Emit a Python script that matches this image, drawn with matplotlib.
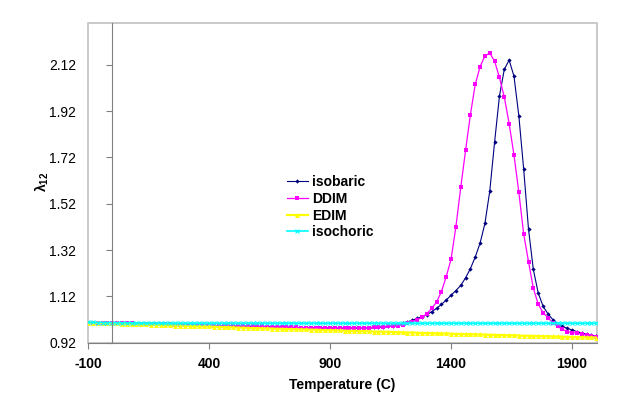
import matplotlib
matplotlib.use("Agg")
import matplotlib.pyplot as plt
from matplotlib.patches import Rectangle

plt.rcParams['font.family'] = ['Liberation Sans', 'DejaVu Sans']
plt.rcParams['axes.unicode_minus'] = False
plt.rcParams['mathtext.fontset'] = 'custom'
plt.rcParams['mathtext.rm'] = 'Liberation Sans:bold'
plt.rcParams['mathtext.it'] = 'Liberation Sans:bold'

# temperature grid (C), -100 .. 2000 every 20
temps = list(range(-100, 2001, 20))

isobaric = [
    1.007, 1.007, 1.006, 1.006, 1.005, 1.005, 1.004, 1.004, 1.003, 1.003,
    1.002, 1.002, 1.001, 1.001, 1.000, 1.000, 0.999, 0.999, 0.998, 0.998,
    0.997, 0.997, 0.996, 0.996, 0.995, 0.995, 0.994, 0.994, 0.993, 0.993,
    0.993, 0.992, 0.992, 0.991, 0.991, 0.990, 0.990, 0.989, 0.988, 0.988,
    0.987, 0.987, 0.986, 0.986, 0.985, 0.985, 0.985, 0.984, 0.984, 0.984,
    0.983, 0.983, 0.983, 0.983, 0.983, 0.984, 0.984, 0.985, 0.985, 0.986,
    0.988, 0.989, 0.991, 0.994, 0.998, 1.004, 1.010, 1.017, 1.025, 1.032,
    1.040, 1.054, 1.068, 1.085, 1.104, 1.125, 1.145, 1.167, 1.200, 1.240,
    1.290, 1.350, 1.435, 1.575, 1.787, 1.985, 2.100, 2.140, 2.070, 1.900,
    1.670, 1.410, 1.236, 1.135, 1.078, 1.045, 1.020, 1.002, 0.990, 0.982,
    0.975, 0.968, 0.962, 0.956, 0.952, 0.948,
]

ddim = [
    1.007, 1.007, 1.006, 1.006, 1.005, 1.005, 1.004, 1.004, 1.003, 1.003,
    1.002, 1.002, 1.001, 1.001, 1.000, 1.000, 0.999, 0.999, 0.998, 0.998,
    0.997, 0.997, 0.996, 0.996, 0.995, 0.995, 0.994, 0.994, 0.993, 0.993,
    0.993, 0.992, 0.992, 0.991, 0.991, 0.990, 0.990, 0.989, 0.988, 0.988,
    0.987, 0.987, 0.986, 0.986, 0.985, 0.985, 0.985, 0.984, 0.984, 0.984,
    0.983, 0.983, 0.983, 0.983, 0.983, 0.984, 0.984, 0.985, 0.985, 0.986,
    0.988, 0.989, 0.990, 0.991, 0.993, 0.997, 1.003, 1.010, 1.019, 1.030,
    1.045, 1.068, 1.095, 1.140, 1.205, 1.280, 1.420, 1.590, 1.750, 1.905,
    2.035, 2.112, 2.158, 2.170, 2.135, 2.065, 1.980, 1.866, 1.730, 1.570,
    1.390, 1.270, 1.155, 1.087, 1.050, 1.028, 1.007, 0.990, 0.978, 0.968,
    0.964, 0.961, 0.957, 0.953, 0.950, 0.946,
]

edim = [
    1.007, 1.006, 1.006, 1.005, 1.004, 1.004, 1.003, 1.002, 1.001, 1.001,
    1.000, 0.999, 0.999, 0.998, 0.997, 0.997, 0.996, 0.995, 0.994, 0.994,
    0.993, 0.992, 0.992, 0.991, 0.990, 0.990, 0.989, 0.988, 0.987, 0.987,
    0.986, 0.985, 0.985, 0.984, 0.983, 0.983, 0.982, 0.982, 0.981, 0.980,
    0.980, 0.979, 0.979, 0.978, 0.977, 0.977, 0.976, 0.976, 0.975, 0.974,
    0.974, 0.973, 0.973, 0.972, 0.971, 0.971, 0.970, 0.970, 0.969, 0.968,
    0.968, 0.967, 0.967, 0.966, 0.965, 0.965, 0.964, 0.964, 0.963, 0.962,
    0.962, 0.961, 0.961, 0.960, 0.960, 0.959, 0.958, 0.958, 0.957, 0.957,
    0.956, 0.956, 0.955, 0.954, 0.954, 0.953, 0.953, 0.952, 0.952, 0.951,
    0.950, 0.950, 0.949, 0.949, 0.948, 0.948, 0.947, 0.947, 0.946, 0.945,
    0.945, 0.944, 0.944, 0.943, 0.943, 0.942,
]

isochoric = [
    1.008, 1.008, 1.007, 1.007, 1.007, 1.006, 1.006, 1.006, 1.006, 1.005,
    1.005, 1.005, 1.005, 1.005, 1.005, 1.004, 1.004, 1.004, 1.004, 1.004,
    1.004, 1.004, 1.004, 1.004, 1.004, 1.004, 1.004, 1.004, 1.004, 1.004,
    1.004, 1.004, 1.004, 1.004, 1.004, 1.004, 1.004, 1.004, 1.004, 1.004,
    1.004, 1.004, 1.004, 1.004, 1.004, 1.004, 1.004, 1.004, 1.004, 1.004,
    1.004, 1.004, 1.004, 1.004, 1.004, 1.004, 1.004, 1.004, 1.004, 1.004,
    1.004, 1.004, 1.004, 1.004, 1.004, 1.004, 1.004, 1.004, 1.004, 1.004,
    1.004, 1.004, 1.004, 1.004, 1.004, 1.004, 1.004, 1.004, 1.004, 1.004,
    1.004, 1.004, 1.004, 1.004, 1.004, 1.004, 1.004, 1.004, 1.004, 1.004,
    1.004, 1.004, 1.004, 1.004, 1.004, 1.004, 1.004, 1.004, 1.004, 1.004,
    1.004, 1.004, 1.004, 1.004, 1.004, 1.004,
]

xticks = [-100, 400, 900, 1400, 1900]
yticks = [0.92, 1.12, 1.32, 1.52, 1.72, 1.92, 2.12]


def main():
    fig = plt.figure(figsize=(6.35, 3.93), dpi=100)
    ax = fig.add_axes([88/635, 1-342.7/393, (597-88)/635, (342.7-23)/393])

    ax.plot(temps, isobaric, color='#000080', marker='D', markersize=2.2,
            markeredgewidth=0, lw=0.8, label='isobaric')
    ax.plot(temps, ddim, color='#ff00ff', marker='s', markersize=2.6,
            markeredgewidth=0, lw=0.9, label='DDIM')
    ax.plot(temps, edim, color='#ffff00', marker='^', markersize=3.5,
            markeredgewidth=0, lw=1.6, label='EDIM')
    ax.plot(temps, isochoric, color='#00ffff', marker='x', markersize=3,
            markeredgewidth=0.8, lw=1.2, label='isochoric')

    ax.set_xlim(-100, 2003)
    ax.set_ylim(0.92, 2.30)
    ax.set_xticks(xticks)
    ax.set_xticklabels([str(v) for v in xticks], fontweight='bold')
    ax.set_yticks(yticks)
    ax.set_yticklabels(['%.2f' % v for v in yticks], fontweight='bold')

    # excel style: y axis crosses at 0, grey plot-area frame
    ax.spines['left'].set_position(('data', 0))
    ax.spines['left'].set_color('#808080')
    ax.spines['bottom'].set_color('#808080')
    ax.spines['top'].set_visible(False)
    ax.spines['right'].set_visible(False)
    ax.add_patch(Rectangle((0, 0), 1, 1, transform=ax.transAxes, fill=False,
                           edgecolor='#c0c0c0', lw=1.2, clip_on=False, zorder=0))

    ax.tick_params(axis='y', direction='out', length=4, color='#808080',
                   pad=22, labelsize=10)
    ax.tick_params(axis='x', direction='out', length=4, color='#808080',
                   pad=6, labelsize=10)

    ax.set_xlabel('Temperature (C)', fontsize=10, fontweight='bold', labelpad=5)
    fig.text(42/635, 1-182/393, r'$\lambda_{12}$', rotation=90, fontsize=10,
             ha='center', va='center')

    ax.legend(loc='upper left', bbox_to_anchor=(287/635, 1-175/393),
              bbox_transform=fig.transFigure, frameon=False,
              prop={'size': 10, 'weight': 'bold'},
              handlelength=1.5, handletextpad=0.3, labelspacing=0.2,
              borderaxespad=0, borderpad=0)

    fig.savefig('out.png', dpi=100)


if __name__ == '__main__':
    main()
